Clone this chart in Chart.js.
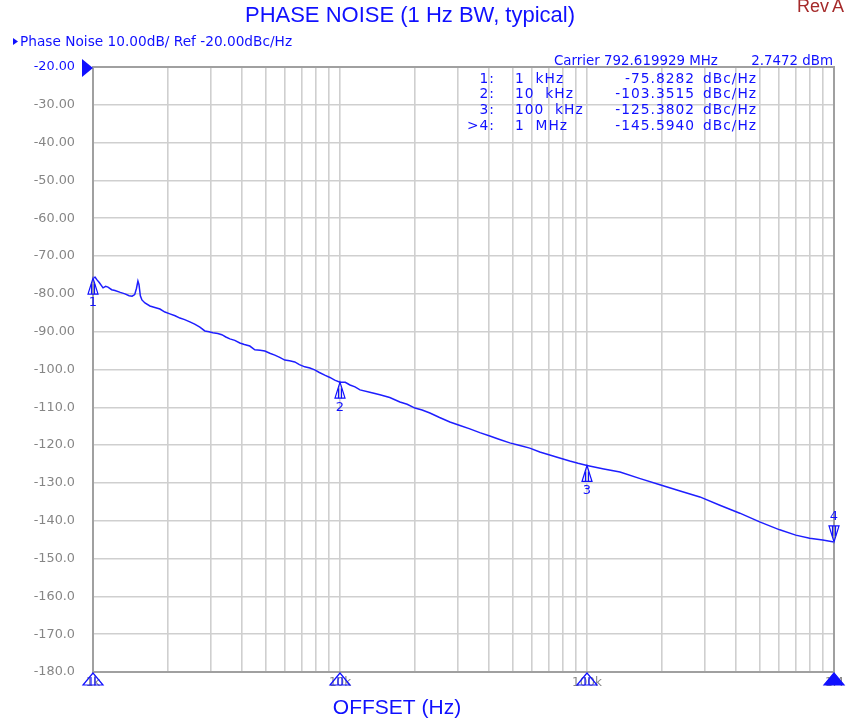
<!DOCTYPE html>
<html>
<head>
<meta charset="utf-8">
<script src="https://cdn.jsdelivr.net/npm/chart.js@4.4.1/dist/chart.umd.min.js"></script>
<style>
  html, body { margin: 0; padding: 0; background: #fff; }
  canvas { display: block; }
</style>
</head>
<body>
<canvas id="chart" width="847" height="724"></canvas>
<script>
const offsetHz = [
  1000, 1020, 1038, 1060, 1098, 1125, 1150, 1190, 1227, 1290, 1347, 1400, 1440, 1475,
  1500, 1520, 1535, 1555, 1578, 1623, 1700, 1780, 1866, 1955, 2048, 2150, 2248, 2350,
  2467, 2580, 2708, 2837, 2950, 3057, 3200, 3323, 3450, 3581, 3750, 3930, 4100, 4314,
  4520, 4750, 4962, 5200, 5445, 5700, 5976, 6250, 6559, 6850, 7199, 7550, 7901, 8250,
  8672, 9100, 9519, 10000, 10500, 10977, 11500, 12050, 13200, 14510, 15900, 17480,
  18700, 20110, 21500, 23120, 25300, 27850, 30600, 33550, 36800, 40420, 44300, 48680,
  53500, 58650, 64400, 70660, 77500, 85120, 92000, 100000, 117000, 136000, 163000,
  197300, 240000, 286400, 345000, 415600, 500000, 603000, 700000, 797000, 900000, 1000000
];
const phaseNoise = [
  -75.8, -75.6, -76.3, -77.0, -78.4, -78.0, -78.2, -78.9, -79.1, -79.6, -80.0, -80.5, -80.6, -80.2,
  -78.5, -76.6, -77.5, -80.5, -81.6, -82.4, -83.2, -83.6, -84.0, -84.8, -85.3, -85.8, -86.4, -86.8,
  -87.4, -88.0, -88.8, -89.8, -90.0, -90.3, -90.5, -90.8, -91.4, -91.9, -92.3, -93.0, -93.4, -93.8,
  -94.8, -94.9, -95.1, -95.7, -96.2, -96.8, -97.5, -97.7, -98.0, -98.7, -99.3, -99.6, -100.1, -100.8,
  -101.5, -102.1, -102.8, -103.35, -103.4, -104.1, -104.6, -105.4, -106.0, -106.7, -107.4, -108.6,
  -109.2, -110.2, -110.7, -111.5, -112.7, -113.9, -114.8, -115.7, -116.7, -117.6, -118.5, -119.4,
  -120.1, -120.8, -121.8, -122.6, -123.4, -124.2, -124.8, -125.38, -126.3, -127.1, -128.8,
  -130.5, -132.2, -133.7, -135.9, -138.0, -140.3, -142.4, -143.8, -144.6, -145.1, -145.59
];

// markers
const markerHz = [1000, 10000, 100000, 1000000];
const markerVal = [-75.8282, -103.3515, -125.3802, -145.5940];
const markerName = ['1:', '2:', '3:', '>4:'];
const markerFreqText = ['1 kHz', '10 kHz', '100 kHz', '1 MHz'];

// x axis labels
const xLabelHz = [1000, 10000, 100000, 1000000];
const xLabelText = ['1k', '10k', '100k', '1M'];

const BLUE = '#1010ff';
const GRAY = '#858585';
const FONT = '"DejaVu Sans", Verdana, sans-serif';

const gridHz = [];
for (let d = 1000; d < 1000000; d *= 10) {
  for (let m = 1; m < 10; m++) gridHz.push(m * d);
}
gridHz.push(1000000);

function drawMark(ctx, px, py, up, filled) {
  ctx.beginPath();
  if (up) {
    ctx.moveTo(px, py);
    ctx.lineTo(px - 5, py + 16);
    ctx.lineTo(px + 5, py + 16);
  } else {
    ctx.moveTo(px, py);
    ctx.lineTo(px - 5, py - 16);
    ctx.lineTo(px + 5, py - 16);
  }
  ctx.closePath();
  if (filled) ctx.fill();
  ctx.stroke();
  // inner stems
  const s = up ? 1 : -1;
  ctx.beginPath();
  ctx.moveTo(px - 1.5, py + s * 6); ctx.lineTo(px - 1.5, py + s * 16);
  ctx.moveTo(px + 1.5, py + s * 6); ctx.lineTo(px + 1.5, py + s * 16);
  ctx.stroke();
}

const analyzer = {
  id: 'analyzer',
  afterDraw(chart) {
    const { ctx, chartArea: a, scales: { x, y } } = chart;
    ctx.save();

    // frame
    ctx.strokeStyle = '#a0a0a0';
    ctx.lineWidth = 2;
    ctx.strokeRect(a.left, a.top, a.right - a.left, a.bottom - a.top);

    // title
    ctx.fillStyle = BLUE;
    ctx.font = '22px "Liberation Sans", Arial, sans-serif';
    ctx.textAlign = 'center';
    ctx.textBaseline = 'middle';
    ctx.fillText('PHASE NOISE (1 Hz BW, typical)', 410, 16);
    ctx.font = '21px "Liberation Sans", Arial, sans-serif';
    ctx.fillText('OFFSET (Hz)', 397, 708);

    ctx.fillStyle = '#a52a2a';
    ctx.font = '18px "Liberation Sans", Arial, sans-serif';
    ctx.textAlign = 'left';
    ctx.fillText('Rev', 797, 7);
    ctx.fillText('A', 832, 7);

    // trace header
    ctx.fillStyle = BLUE;
    ctx.font = '13.7px ' + FONT;
    ctx.beginPath();
    ctx.moveTo(13, 38); ctx.lineTo(18, 41.5); ctx.lineTo(13, 45); ctx.closePath();
    ctx.fill();
    ctx.fillText('Phase Noise 10.00dB/ Ref -20.00dBc/Hz', 20, 42);

    // reference level pointer
    const ry = y.getPixelForValue(-20);
    ctx.beginPath();
    ctx.moveTo(82, ry - 8); ctx.lineTo(93, ry + 1); ctx.lineTo(82, ry + 10); ctx.closePath();
    ctx.fill();

    // marker table
    ctx.font = '13.4px ' + FONT;
    ctx.textAlign = 'left';
    ctx.fillText('Carrier 792.619929 MHz', 554, 62);
    ctx.textAlign = 'right';
    ctx.fillText('2.7472 dBm', 833, 62);

    ctx.font = '13.8px ' + FONT;
    ctx.letterSpacing = '1px';
    markerName.forEach((n, i) => {
      const ty = 79 + i * 15.8;
      ctx.textAlign = 'right';
      ctx.fillText(n, 495, ty);
      ctx.fillText(markerVal[i].toFixed(4), 695, ty);
      ctx.textAlign = 'left';
      ctx.fillText(markerFreqText[i].replace(' ', '  '), 515, ty);
      ctx.fillText('dBc/Hz', 703, ty);
    });
    ctx.letterSpacing = '0px';

    // markers on trace
    ctx.strokeStyle = BLUE;
    ctx.lineWidth = 1.2;
    ctx.font = '13px ' + FONT;
    ctx.textAlign = 'center';
    markerHz.forEach((f, i) => {
      const px = x.getPixelForValue(f);
      const py = y.getPixelForValue(markerVal[i]);
      const up = i < 3;
      drawMark(ctx, px, py, up, false);
      ctx.fillText(String(i + 1), px, up ? py + 25 : py - 25);
      // marker on the stimulus axis
      ctx.beginPath();
      ctx.moveTo(px, a.bottom + 1);
      ctx.lineTo(px - 10, a.bottom + 13);
      ctx.lineTo(px + 10, a.bottom + 13);
      ctx.closePath();
      if (i === 3) ctx.fill();
      ctx.stroke();
      if (i < 3) {
        ctx.beginPath();
        ctx.moveTo(px - 2, a.bottom + 5); ctx.lineTo(px - 2, a.bottom + 13);
        ctx.moveTo(px + 2, a.bottom + 5); ctx.lineTo(px + 2, a.bottom + 13);
        ctx.stroke();
      }
    });

    ctx.restore();
  }
};

new Chart(document.getElementById('chart'), {
  type: 'line',
  data: {
    datasets: [{
      data: offsetHz.map((f, i) => ({ x: f, y: phaseNoise[i] })),
      borderColor: 'rgb(30,30,255)',
      borderWidth: 1.5,
      pointRadius: 0,
      tension: 0,
      fill: false,
    }],
  },
  options: {
    responsive: false,
    animation: false,
    layout: {
      padding: { left: 0, right: 12, top: 67, bottom: 0 },
    },
    scales: {
      x: {
        type: 'logarithmic',
        min: 1000,
        max: 1000000,
        afterBuildTicks: (scale) => {
          scale.ticks = gridHz.map((v) => ({ value: v }));
        },
        afterFit: (scale) => { scale.height = 52; },
        border: { display: false },
        grid: {
          color: '#cfcfcf',
          lineWidth: 1.6,
          drawTicks: false,
        },
        ticks: {
          autoSkip: false,
          maxRotation: 0,
          padding: 4,
          color: GRAY,
          font: { family: FONT, size: 12 },
          callback: (value) => {
            const k = xLabelHz.indexOf(value);
            return k >= 0 ? xLabelText[k] : '';
          },
        },
      },
      y: {
        min: -180,
        max: -20,
        afterFit: (scale) => { scale.width = 93; },
        border: { display: false },
        grid: {
          color: '#cfcfcf',
          lineWidth: 1.6,
          drawTicks: false,
        },
        ticks: {
          stepSize: 10,
          padding: 18,
          color: (c) => (c.tick && c.tick.value === -20 ? BLUE : GRAY),
          font: { family: FONT, size: 12.8 },
          callback: (v) => (Math.abs(v) < 100 ? v.toFixed(2) : v.toFixed(1)),
        },
      },
    },
    plugins: {
      legend: { display: false },
      tooltip: { enabled: false },
    },
  },
  plugins: [analyzer],
});
</script>
</body>
</html>
